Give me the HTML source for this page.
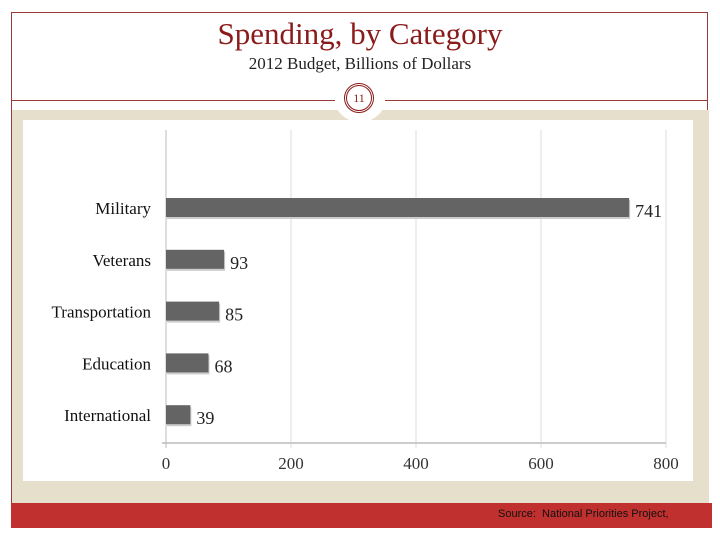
<!DOCTYPE html>
<html><head><meta charset="utf-8"><style>
body{margin:0;width:720px;height:540px;background:#fff;position:relative;overflow:hidden;font-family:"Liberation Serif",serif}
div{position:absolute}
</style></head><body>
<div style="left:11px;top:12px;width:697px;height:515px;border:1px solid #9b3a3a;box-sizing:border-box"></div>
<div style="left:0;top:16px;width:720px;text-align:center;font-size:31px;color:#8b1a1a">Spending, by Category</div>
<div style="left:0;top:54px;width:720px;text-align:center;font-size:17px;color:#222">2012 Budget, Billions of Dollars</div>
<div style="left:12px;top:110px;width:697px;height:394px;background:#e6dfcb"></div>
<div style="left:12px;top:100px;width:696px;height:1px;background:#9b3a3a"></div>
<div style="left:23px;top:120px;width:670px;height:361px;background:#fff"></div>
<div style="left:335px;top:78px;width:50px;height:44px;border-radius:50%;background:#fff"></div>
<div style="left:344px;top:83px;width:30px;height:30px;border:3px double #8b1a1a;border-radius:50%;box-sizing:border-box;text-align:center;line-height:24px;font-size:12px;color:#8b1a1a">11</div>
<div style="left:11px;top:503px;width:701px;height:25px;background:#c0302e"></div>
<div style="left:498px;top:508px;font-family:'Liberation Sans',sans-serif;font-size:11px;color:#111">Source:&nbsp; National Priorities Project,</div>
<svg id="chart" width="720" height="540" style="position:absolute;left:0;top:0"></svg>
<script>
const categories=["Military","Veterans","Transportation","Education","International"];
const values=[741,93,85,68,39];
const ticks=[0,200,400,600,800];
const NS="http://www.w3.org/2000/svg";
const svg=document.getElementById('chart');
const x=v=>166+v*0.625;
const y=i=>208+i*51.8;
function mk(t,a){const e=document.createElementNS(NS,t);for(const k in a)e.setAttribute(k,a[k]);svg.appendChild(e);return e;}
ticks.forEach(t=>{
 const g=mk('line',{x1:x(t),x2:x(t),y1:130,y2:448,stroke:t===0?'#bbb':'#ddd','stroke-width':1});
 
 
 const l=mk('text',{x:x(t),y:469,'text-anchor':'middle','font-size':17,fill:'#333'});
 l.textContent=t;
 
 
});
const ax=mk('line',{x1:162,x2:666,y1:443,y2:443,stroke:'#bbb','stroke-width':1.5});


categories.forEach((c,i)=>{
 const s=mk('rect',{x:x(0)+1,y:y(i)-8,width:x(values[i])-x(0),height:19,fill:'#ccc'});
 
 
 const b=mk('rect',{x:x(0),y:y(i)-10,width:x(values[i])-x(0),height:19,fill:'#646464'});
 
 
 const lab=mk('text',{x:151,y:y(i)+6,'text-anchor':'end','font-size':17,fill:'#111'});
 lab.textContent=c;
 
 
 const v=mk('text',{x:x(values[i])+6,y:y(i)+9,'font-size':18,fill:'#222'});
 v.textContent=values[i];
 
 
});
</script>
</body></html>
